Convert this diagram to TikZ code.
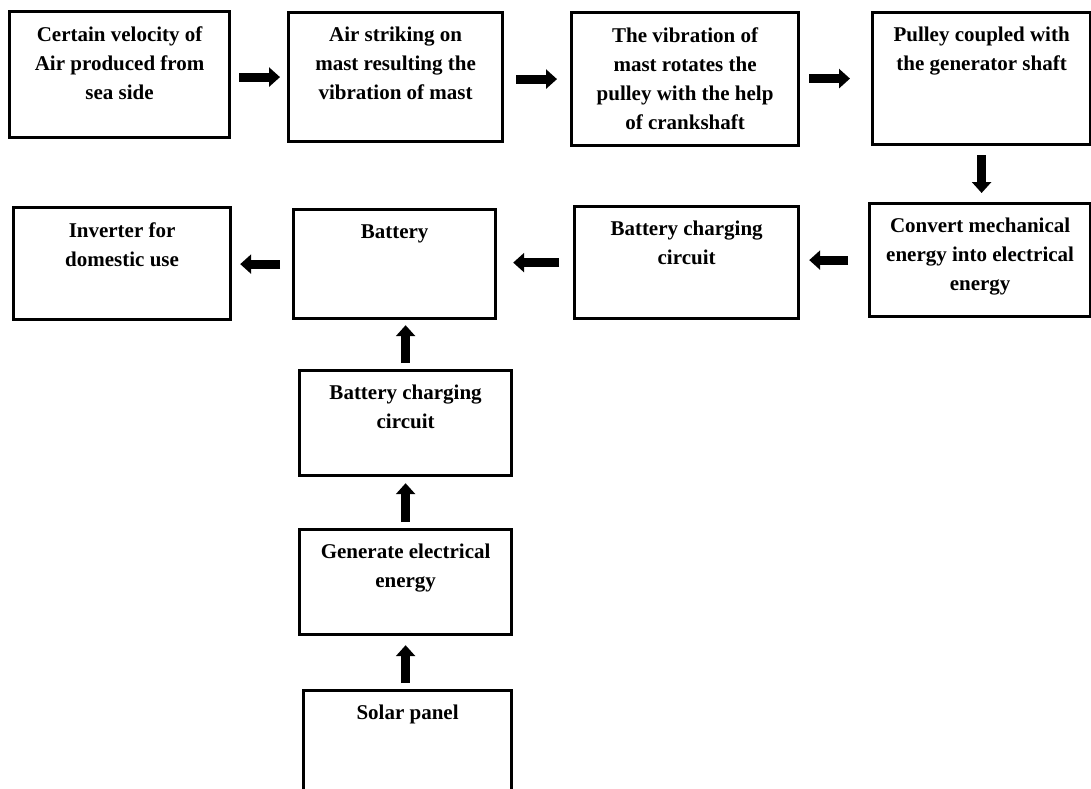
\documentclass[tikz,border=0pt]{standalone}
\usepackage{fontspec}
\setmainfont{Liberation Serif}
\usetikzlibrary{arrows.meta,positioning}

\tikzset{
  stage/.style={draw, line width=1.6pt, anchor=north west, inner sep=0pt},
  stagetext/.style={anchor=north, align=center, inner sep=0pt, yshift=-8pt,
    font=\fontsize{10.5}{14.5}\selectfont\bfseries},
  flow/.style={line width=4.4pt, -{Triangle[length=5.5pt,width=9.5pt]}}
}

\begin{document}
\begin{tikzpicture}[x=0.5pt, y=-0.5pt]
  \path[use as bounding box, clip] (0,0) rectangle (1091,788);

  % wind side, top row
  \node[stage, minimum width=110pt, minimum height=63pt] (air) at (8,10) {};
  \node[stage, minimum width=107pt, minimum height=64.5pt] (mast) at (287,11) {};
  \node[stage, minimum width=113.5pt, minimum height=66.5pt] (crank) at (570,11) {};
  \node[stage, minimum width=109pt, minimum height=66pt] (pulley) at (871,11) {};

  % second row
  \node[stage, minimum width=110.5pt, minimum height=56.5pt] (convert) at (868,202) {};
  \node[stage, minimum width=112pt, minimum height=56pt] (charge) at (573,205) {};
  \node[stage, minimum width=101pt, minimum height=54.5pt] (battery) at (292,208) {};
  \node[stage, minimum width=108.5pt, minimum height=56pt] (inverter) at (12,206) {};

  % solar side
  \node[stage, minimum width=106pt, minimum height=52.5pt] (solarcharge) at (298,369) {};
  \node[stage, minimum width=106pt, minimum height=52.5pt] (generate) at (298,528) {};
  \node[stage, minimum width=104pt, minimum height=60pt] (solar) at (302,689) {};

  % texts
  \node[stagetext] (air-t) at (air.north) {Certain velocity of\\Air produced from\\sea side};
  \node[stagetext] (mast-t) at (mast.north) {Air striking on\\mast resulting the\\vibration of mast};
  \node[stagetext] (crank-t) at (crank.north) {The vibration of\\mast rotates the\\pulley with the help\\of crankshaft};
  \node[stagetext] (pulley-t) at (pulley.north) {Pulley coupled with\\the generator shaft};
  \node[stagetext] (convert-t) at (convert.north) {Convert mechanical\\energy into electrical\\energy};
  \node[stagetext] (charge-t) at (charge.north) {Battery charging\\circuit};
  \node[stagetext] (battery-t) at (battery.north) {Battery};
  \node[stagetext] (inverter-t) at (inverter.north) {Inverter for\\domestic use};
  \node[stagetext] (solarcharge-t) at (solarcharge.north) {Battery charging\\circuit};
  \node[stagetext] (generate-t) at (generate.north) {Generate electrical\\energy};
  \node[stagetext] (solar-t) at (solar.north) {Solar panel};

  % arrows
  \draw[flow, shorten <=4pt, shorten >=3.5pt] (mast.west -| air.east) -- (mast.west);
  \draw[flow, shorten <=6pt, shorten >=6.5pt] (crank.west -| mast.east) -- (crank.west);
  \draw[flow, shorten <=4.5pt, shorten >=10.5pt] (pulley.west -| crank.east) -- (pulley.west);
  \draw[flow, shorten <=4.5pt, shorten >=4.5pt] (pulley.south) -- (pulley.south |- convert.north);
  \draw[flow, shorten <=10pt, shorten >=4.5pt] (convert.west) -- (convert.west -| charge.east);
  \draw[flow, shorten <=7pt, shorten >=8pt] (charge.west) -- (charge.west -| battery.east);
  \draw[flow, shorten <=6pt, shorten >=4pt] (battery.west) -- (battery.west -| inverter.east);
  \draw[flow, shorten <=3pt, shorten >=2.5pt] (solarcharge.north) -- (solarcharge.north |- battery.south);
  \draw[flow, shorten <=3pt, shorten >=3pt] (generate.north) -- (solarcharge.south);
  \draw[flow, shorten <=3pt, shorten >=4.5pt] (generate.south |- solar.north) -- (generate.south);
\end{tikzpicture}
\end{document}
